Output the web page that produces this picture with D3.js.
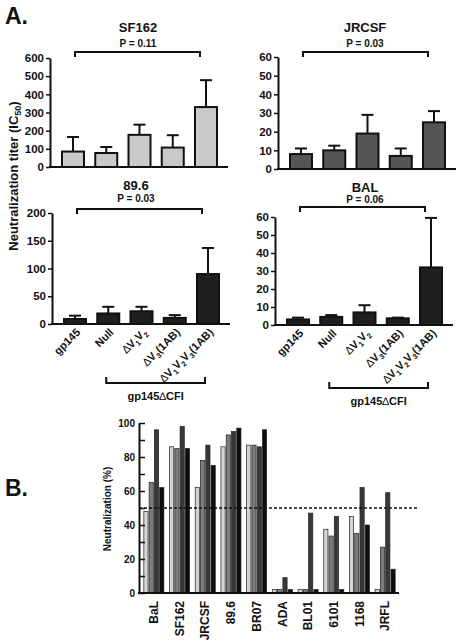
<!DOCTYPE html>
<html><head><meta charset="utf-8">
<script src="https://cdn.jsdelivr.net/npm/d3@7"></script>
<style>
body{margin:0;background:#fff}
svg{display:block}
text{font-family:"Liberation Sans",Arial,sans-serif;font-weight:bold;fill:#111}
</style>
</head><body><svg id="c" width="465" height="642"></svg>
<script>
// ---------- DATA ----------
const constructs = ["gp145","Null","ΔV1V2","ΔV3(1AB)","ΔV1V2V3(1AB)"];
const sf162Mean = [85, 77, 177, 107, 330];
const sf162Sd   = [80, 33, 56, 68, 148];
const jrcsfMean = [8, 10, 19, 7, 25];
const jrcsfSd   = [3, 2.5, 10, 4, 6];
const m896Mean  = [9, 19, 23, 11, 90];
const m896Sd    = [6, 12, 8, 5, 47];
const balMean   = [3.1, 4.5, 7, 3.7, 32];
const balSd     = [1, 1, 4, 0.4, 27.5];
const sf162Ticks = [0,100,200,300,400,500,600];
const jrcsfTicks = [0,10,20,30,40,50,60];
const m896Ticks  = [0,50,100,150,200];
const balTicks   = [0,10,20,30,40,50,60];
const pValues = ["P = 0.11","P = 0.03","P = 0.03","P = 0.06"];

const isolates = ["BaL","SF162","JRCSF","89.6","BR07","ADA","BL01","6101","1168","JRFL"];
const neutS1 = [48, 86, 62, 86, 87, 2, 2, 37.5, 45, 2];
const neutS2 = [65, 85, 78, 93, 87, 2, 2, 33.5, 35, 27];
const neutS3 = [96, 98, 87, 95, 86, 9, 47, 45, 62, 59];
const neutS4 = [62, 85, 75, 97, 96, 2, 2, 2, 40, 14];
const neutTicks = [0,10,20,30,40,50,60,70,80,90,100];
const threshold = 50;

// ---------- DRAW ----------
const svg = d3.select("#c");

function labelWithSubs(sel, s, subFs){
  const chars = [...s];
  let buf = "", shifted = false;
  const push = (txt, sub) => {
    const t = sel.append("tspan").text(txt);
    if(sub){ t.attr("font-size", subFs); if(!shifted){ t.attr("dy", 3); shifted = true; } }
    else { if(shifted){ t.attr("dy", -3); shifted = false; } }
    return t;
  };
  chars.forEach((ch,i) => {
    if(ch === "Δ"){ if(buf){push(buf,false);buf="";} push("∆",false).attr("font-weight","normal"); }
    else if(/\d/.test(ch) && chars[i-1] === "V"){ if(buf){push(buf,false);buf="";} push(ch,true); }
    else buf += ch;
  });
  if(buf) push(buf,false);
}

function panelA(cfg){
  const g = svg.append("g");
  const x = d3.scaleBand().domain(constructs).range([cfg.x0+12, cfg.x0+167]).paddingInner(0.338);
  const y = d3.scaleLinear().domain([0, cfg.ticks[cfg.ticks.length-1]]).range([cfg.y0, cfg.yTop]);
  const cx = i => x(constructs[i]) + x.bandwidth()/2;

  const eg = g.append("g").attr("stroke","#111").attr("stroke-width",2);
  cfg.mean.forEach((m,i) => {
    const top = y(m + cfg.sd[i]);
    eg.append("line").attr("x1",cx(i)).attr("x2",cx(i)).attr("y1",y(m)).attr("y2",top);
    eg.append("line").attr("x1",cx(i)-6).attr("x2",cx(i)+6).attr("y1",top).attr("y2",top);
  });
  g.selectAll("rect.bar").data(cfg.mean).join("rect").attr("class","bar")
    .attr("x",(d,i)=>x(constructs[i])).attr("y",d=>y(d))
    .attr("width",x.bandwidth()).attr("height",d=>cfg.y0-y(d))
    .attr("fill",cfg.color).attr("stroke","#111").attr("stroke-width",2);

  const ax = g.append("g").attr("transform",`translate(${cfg.x0},0)`)
    .call(d3.axisLeft(y).tickValues(cfg.ticks).tickSize(4).tickSizeOuter(0).tickPadding(2));
  ax.select(".domain").attr("stroke","#111").attr("stroke-width",2);
  ax.selectAll(".tick line").attr("stroke","#111").attr("stroke-width",1.5);
  ax.selectAll(".tick text").attr("font-size",11.5).attr("font-family",null).attr("fill","#111");
  g.append("line").attr("x1",cfg.x0-1).attr("x2",cfg.x0+178).attr("y1",cfg.y0).attr("y2",cfg.y0)
    .attr("stroke","#111").attr("stroke-width",2);

  g.append("text").attr("x",cfg.tx).attr("y",cfg.titleY).attr("text-anchor","middle").attr("font-size",13).text(cfg.title);
  g.append("text").attr("x",cfg.tx).attr("y",cfg.pY).attr("text-anchor","middle").attr("font-size",10).text(cfg.p);
  const bx1 = cx(0)+2, bx2 = cx(4)-6;
  g.append("path").attr("d",`M${bx1},${cfg.bY+5}V${cfg.bY}H${bx2}V${cfg.bY+5}`)
    .attr("fill","none").attr("stroke","#111").attr("stroke-width",2);

  if(cfg.labels){
    constructs.forEach((c,i) => {
      const t = g.append("text").attr("font-size",11).attr("text-anchor","end")
        .attr("transform",`translate(${cx(i)+6},${cfg.y0+9}) rotate(-45)`);
      labelWithSubs(t, c, 7.5);
    });
    const gx1 = cx(1)-2, gx2 = cx(4)-3, gy = cfg.gY;
    g.append("path").attr("d",`M${gx1},${gy-6}V${gy}H${gx2}V${gy-6}`)
      .attr("fill","none").attr("stroke","#111").attr("stroke-width",2);
    const gt = g.append("text").attr("x",(gx1+gx2)/2).attr("y",gy+17).attr("text-anchor","middle").attr("font-size",11);
    gt.append("tspan").text("gp145");
    gt.append("tspan").attr("font-weight","normal").text("∆");
    gt.append("tspan").text("CFI");
  }
}

panelA({x0:50, y0:167, yTop:58, ticks:sf162Ticks, mean:sf162Mean, sd:sf162Sd, color:"#c9c9c9",
  title:"SF162", p:pValues[0], tx:138, titleY:32, pY:47, bY:52});
panelA({x0:278, y0:169, yTop:57, ticks:jrcsfTicks, mean:jrcsfMean, sd:jrcsfSd, color:"#555555",
  title:"JRCSF", p:pValues[1], tx:365, titleY:32, pY:47, bY:52});
panelA({x0:52, y0:324, yTop:213, ticks:m896Ticks, mean:m896Mean, sd:m896Sd, color:"#1f1f1f",
  title:"89.6", p:pValues[2], tx:136, titleY:190, pY:202, bY:209, labels:true, gY:383});
panelA({x0:275, y0:325, yTop:217, ticks:balTicks, mean:balMean, sd:balSd, color:"#1f1f1f",
  title:"BAL", p:pValues[3], tx:365, titleY:192, pY:203, bY:207, labels:true, gY:388});

const yl = svg.append("text").attr("transform","translate(18,176) rotate(-90)").attr("text-anchor","middle").attr("font-size",13);
yl.append("tspan").text("Neutralization titer (IC");
yl.append("tspan").attr("font-size",9).attr("dy",3).text("50");
yl.append("tspan").attr("dy",-3).text(")");

svg.append("text").attr("x",5).attr("y",24).attr("font-size",23).text("A.");
svg.append("text").attr("x",5).attr("y",496).attr("font-size",23).text("B.");

// ---------- PANEL B ----------
const series = [neutS1, neutS2, neutS3, neutS4];
const seriesFill = ["#d4d4d4","#7c7c7c","#383838","#0d0d0d"];
const bX0 = 139, bX1 = 399, bY0 = 593, bYTop = 423;
const x0 = d3.scaleBand().domain(isolates).range([141, 398]).paddingInner(0.22).paddingOuter(0.11);
const x1 = d3.scaleBand().domain(d3.range(series.length)).range([0, x0.bandwidth()]).paddingInner(0.2);
const yB = d3.scaleLinear().domain([0,100]).range([bY0, bYTop]);
const gB = svg.append("g");
series.forEach((vals, si) => {
  gB.append("g").selectAll("rect").data(vals).join("rect")
    .attr("x",(d,i)=>x0(isolates[i]) + x1(si))
    .attr("y",d=>yB(d)).attr("width",x1.bandwidth()).attr("height",d=>bY0-yB(d))
    .attr("fill",seriesFill[si]).attr("stroke","#222").attr("stroke-width",0.7);
});
const axB = gB.append("g").attr("transform",`translate(${bX0},0)`)
  .call(d3.axisLeft(yB).tickValues(neutTicks).tickSize(-6).tickSizeOuter(0).tickPadding(4)
    .tickFormat(d => d % 20 === 0 ? d : ""));
axB.select(".domain").attr("stroke","#111").attr("stroke-width",2);
axB.selectAll(".tick line").attr("stroke","#111").attr("stroke-width",1.5);
axB.selectAll(".tick text").attr("font-size",10).attr("font-family",null).attr("fill","#111");
gB.append("line").attr("x1",bX0-1).attr("x2",bX1).attr("y1",bY0).attr("y2",bY0).attr("stroke","#111").attr("stroke-width",2);
gB.append("line").attr("x1",bX0).attr("x2",419).attr("y1",yB(threshold)).attr("y2",yB(threshold))
  .attr("stroke","#111").attr("stroke-width",1.3).attr("stroke-dasharray","3,2");
isolates.forEach(c => {
  gB.append("text").attr("font-size",12).attr("text-anchor","end").attr("dy","0.35em")
    .attr("transform",`translate(${x0(c)+x0.bandwidth()/2},601) rotate(-90)`).text(c);
});
svg.append("text").attr("transform","translate(111,509) rotate(-90)").attr("text-anchor","middle").attr("font-size",10).text("Neutralization (%)");
</script>
</body></html>
